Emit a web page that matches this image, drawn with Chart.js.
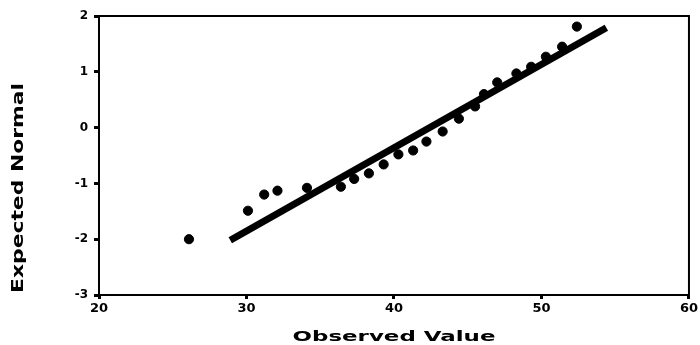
<!DOCTYPE html>
<html>
<head>
<meta charset="utf-8">
<script src="https://cdn.jsdelivr.net/npm/chart.js@4/dist/chart.umd.min.js"></script>
<style>
  html, body { margin: 0; padding: 0; background: #ffffff; }
  #wrap { width: 700px; height: 345px; position: relative; }
</style>
</head>
<body>
<div id="wrap"><canvas id="c" width="700" height="345"></canvas></div>
<script>
const observedValues = [26.1, 30.1, 31.2, 32.1, 34.1, 36.4, 37.3, 38.3, 39.3, 40.3, 41.3, 42.2, 43.3, 44.4, 45.5, 46.1, 47.0, 48.3, 49.3, 50.3, 51.4, 52.4];
const expectedNormal = [-2.0, -1.49, -1.20, -1.13, -1.08, -1.06, -0.92, -0.82, -0.66, -0.48, -0.41, -0.25, -0.07, 0.16, 0.38, 0.60, 0.81, 0.97, 1.09, 1.27, 1.45, 1.81];
// Reference line endpoints
const lineX = [28.9, 54.4];
const lineY = [-2.02, 1.79];
// Axis ticks
const xTicks = [20, 30, 40, 50, 60];
const yTicks = [-3, -2, -1, 0, 1, 2];
const xTitle = 'Observed Value';
const yTitle = 'Expected Normal';

const pointData = observedValues.map((v, i) => ({ x: v, y: expectedNormal[i] }));
const lineData = lineX.map((v, i) => ({ x: v, y: lineY[i] }));

const framePlugin = {
  id: 'frame',
  afterDatasetsDraw(chart) {
    const { ctx, chartArea: a } = chart;
    ctx.save();
    ctx.strokeStyle = '#000';
    ctx.lineWidth = 2;
    ctx.strokeRect(a.left, a.top, a.right - a.left, a.bottom - a.top);
    ctx.restore();
  },
  afterDraw(chart) {
    const { ctx, chartArea: a } = chart;
    ctx.save();
    ctx.fillStyle = '#000';
    ctx.font = 'bold 14px "DejaVu Sans"';
    ctx.textAlign = 'center';
    ctx.textBaseline = 'middle';
    // x title, stretched horizontally
    const cx = (a.left + a.right) / 2;
    ctx.save();
    ctx.translate(cx, 337);
    const wx = ctx.measureText(xTitle).width;
    ctx.scale(203 / wx, 1);
    ctx.fillText(xTitle, 0, 0);
    ctx.restore();
    // y title, rotated and stretched along its length
    ctx.save();
    ctx.translate(19, 188);
    ctx.rotate(-Math.PI / 2);
    ctx.font = 'bold 15px "DejaVu Sans"';
    const wy = ctx.measureText(yTitle).width;
    ctx.scale(210 / wy, 1);
    ctx.fillText(yTitle, 0, 0);
    ctx.restore();
    ctx.restore();
  }
};

new Chart(document.getElementById('c'), {
  data: {
    datasets: [
      {
        type: 'scatter',
        data: pointData,
        backgroundColor: '#000',
        borderColor: '#000',
        pointRadius: 4.6,
        pointHoverRadius: 4.6,
        order: 1
      },
      {
        type: 'line',
        data: lineData,
        borderColor: '#000',
        borderWidth: 7,
        pointRadius: 0,
        fill: false,
        order: 2
      }
    ]
  },
  options: {
    responsive: false,
    animation: false,
    events: [],
    layout: { padding: { top: 16, right: 9, left: 0, bottom: 0 } },
    plugins: { legend: { display: false }, tooltip: { enabled: false } },
    scales: {
      x: {
        type: 'linear',
        min: 20, max: 60,
        afterFit(s) { s.height = 50; },
        afterBuildTicks(s) { s.ticks = xTicks.map(v => ({ value: v })); },
        border: { display: true, color: '#000', width: 2 },
        grid: { display: true, drawOnChartArea: false, drawTicks: true, tickLength: 4, tickWidth: 3, tickColor: '#000' },
        ticks: { color: '#000', padding: 2, font: { family: 'DejaVu Sans', weight: 'bold', size: 13 }, maxRotation: 0 }
      },
      y: {
        type: 'linear',
        min: -3, max: 2,
        afterFit(s) { s.width = 99; },
        afterBuildTicks(s) { s.ticks = yTicks.map(v => ({ value: v })); },
        border: { display: true, color: '#000', width: 2 },
        grid: { display: true, drawOnChartArea: false, drawTicks: true, tickLength: 5, tickWidth: 3, tickColor: '#000' },
        ticks: { color: '#000', padding: 6, font: { family: 'DejaVu Sans', weight: 'bold', size: 12 } }
      }
    }
  },
  plugins: [framePlugin]
});
</script>
</body>
</html>
